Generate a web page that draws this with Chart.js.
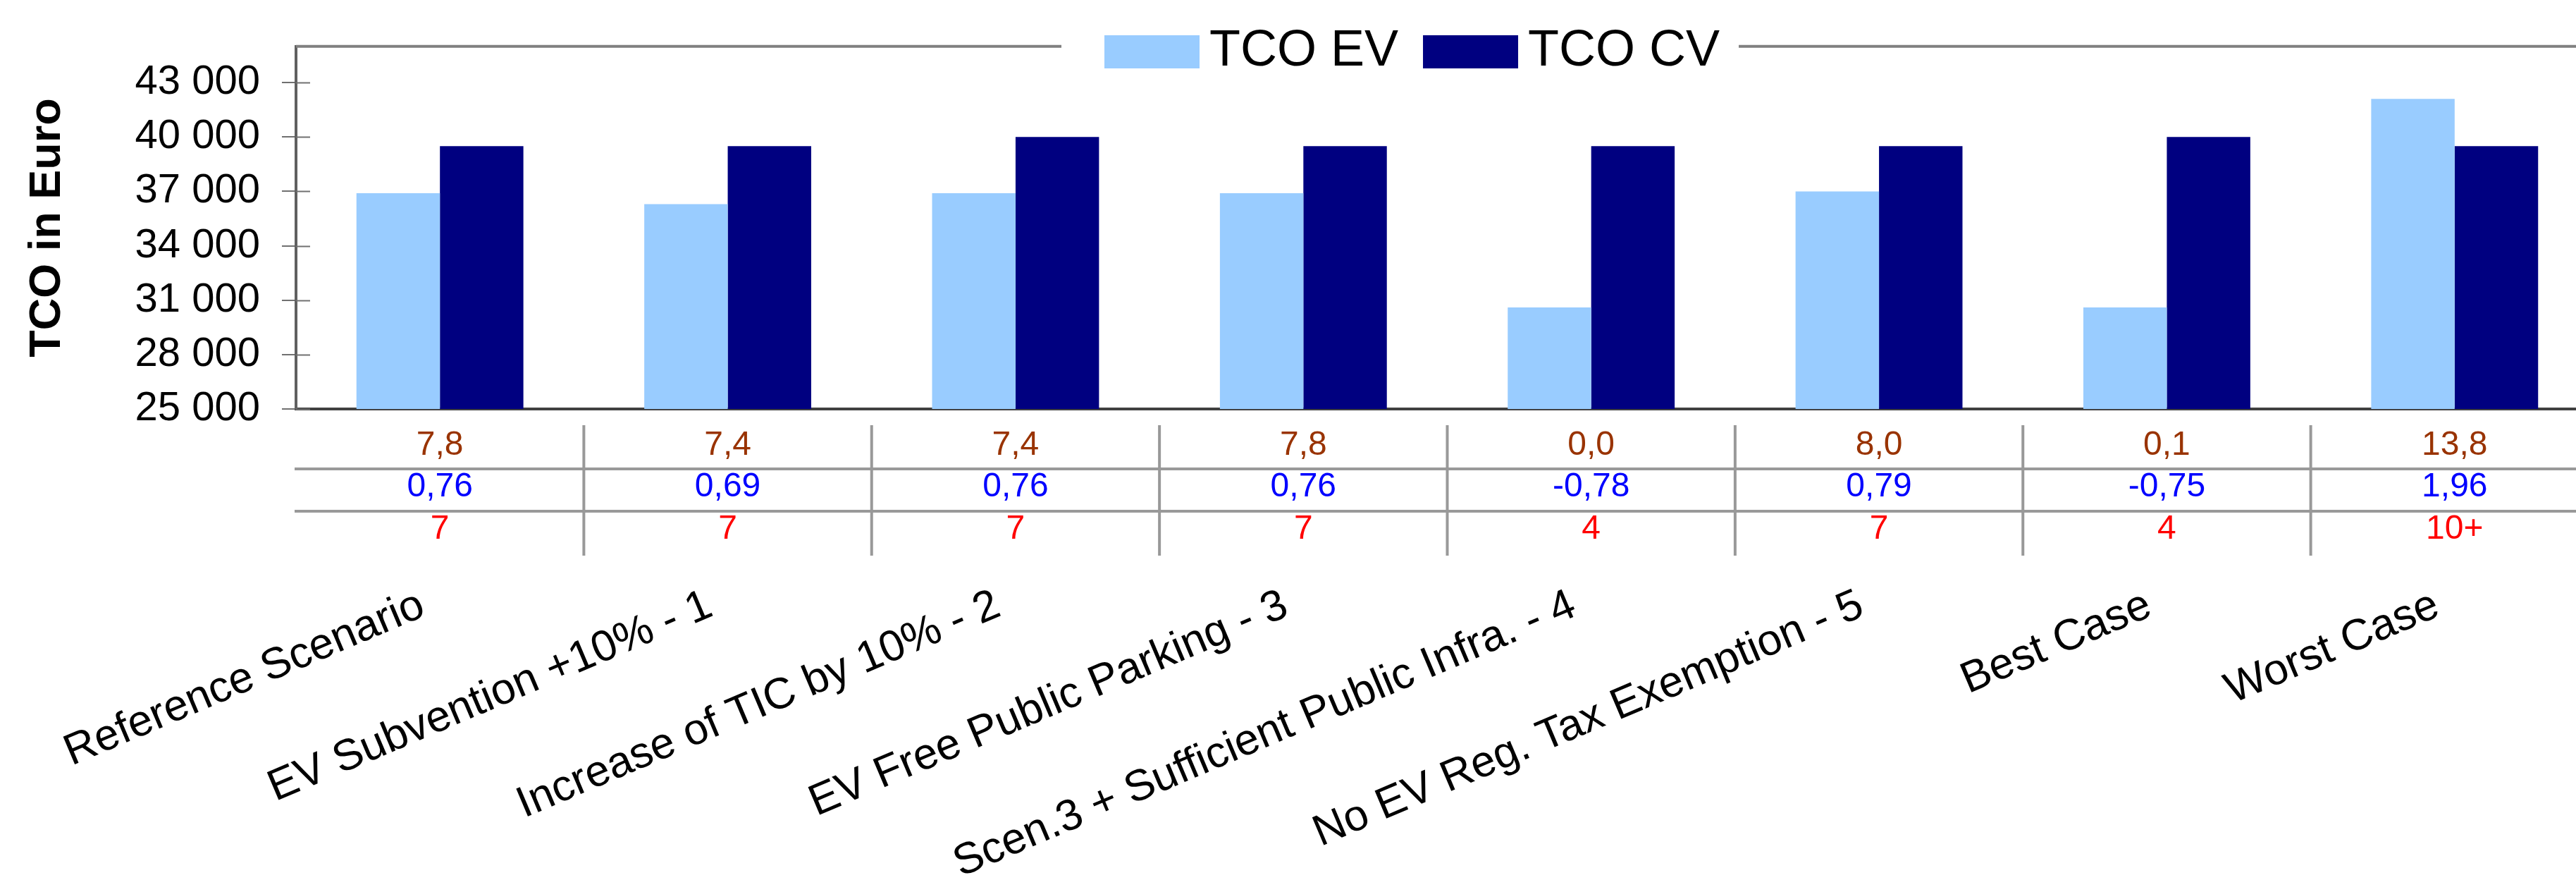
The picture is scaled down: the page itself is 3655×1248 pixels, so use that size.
<!DOCTYPE html>
<html>
<head>
<meta charset="utf-8">
<title>TCO EV vs CV</title>
<script src="https://cdn.jsdelivr.net/npm/chart.js@4.4.1/dist/chart.umd.min.js"></script>
<style>
  html, body { margin: 0; padding: 0; background: #fff; overflow: hidden; }
  #wrap { width: 3655px; height: 1248px; position: relative; }
</style>
</head>
<body>
<div id="wrap"><canvas id="tcoChart"></canvas></div>
<script>
// scenario names (x axis)
const categories = [
  "Reference Scenario",
  "EV Subvention +10% - 1",
  "Increase of TIC by 10% - 2",
  "EV Free Public Parking - 3",
  "Scen.3 + Sufficient Public Infra. - 4",
  "No EV Reg. Tax Exemption - 5",
  "Best Case",
  "Worst Case"
];

// TCO values in Euro
const tcoEV = [36900, 36300, 36900, 36900, 30600, 37000, 30600, 42100];
const tcoCV = [39500, 39500, 40000, 39500, 39500, 39500, 40000, 39500];

// data table rows under the plot
const rowBrown = ["7,8", "7,4", "7,4", "7,8", "0,0", "8,0", "0,1", "13,8"];
const rowBlue = ["0,76", "0,69", "0,76", "0,76", "-0,78", "0,79", "-0,75", "1,96"];
const rowRed = ["7", "7", "7", "7", "4", "7", "4", "10+"];

// y axis
const yTicks = [25000, 28000, 31000, 34000, 37000, 40000, 43000];
const yMin = 25000;
const yMax = 45000;

const FONT = "'Liberation Sans', Arial, Helvetica, sans-serif";
Chart.defaults.font.family = FONT;
Chart.defaults.color = "#000";

const EV_COLOR = "#99CCFF";
const CV_COLOR = "#000080";

const fmt = v => String(v).replace(/\B(?=(\d{3})+(?!\d))/g, " ");

// the plot runs a little past the right edge of the picture
const PLOT_WIDTH = 3267;

const extras = {
  id: "extras",
  afterLayout(chart) {
    const xs = chart.scales.x;
    xs.right = xs.left + PLOT_WIDTH;
    xs.width = PLOT_WIDTH;
    xs.configure();
  },
  afterDraw(chart) {
    const { ctx, chartArea } = chart;
    const xs = chart.scales.x;
    const ys = chart.scales.y;
    ctx.save();

    // inner half of the y tick marks
    ctx.strokeStyle = "#707070";
    ctx.lineWidth = 2;
    yTicks.forEach(v => {
      const y = Math.round(ys.getPixelForValue(v)) + 0.5;
      ctx.beginPath();
      ctx.moveTo(chartArea.left, y);
      ctx.lineTo(chartArea.left + 20, y);
      ctx.stroke();
    });

    // legend (sits on the top border)
    const ds = chart.data.datasets;
    ctx.font = "72px " + FONT;
    ctx.textBaseline = "alphabetic";
    ctx.textAlign = "left";
    let x = 1567;
    const legendStart = x;
    ds.forEach((d, i) => {
      ctx.fillStyle = d.backgroundColor;
      ctx.fillRect(x, 50, 135, 47);
      x += 149;
      ctx.fillStyle = "#000";
      ctx.fillText(d.label, x, 93);
      x += ctx.measureText(d.label).width;
      if (i < ds.length - 1) x += 35;
    });
    const legendEnd = x;

    // top border with a gap for the legend
    ctx.strokeStyle = "#808080";
    ctx.lineWidth = 4;
    const ty = chartArea.top;
    ctx.beginPath();
    ctx.moveTo(chartArea.left, ty);
    ctx.lineTo(legendStart - 61, ty);
    ctx.moveTo(legendEnd + 27, ty);
    ctx.lineTo(chart.width + 10, ty);
    ctx.stroke();

    // data table
    const b = chartArea.bottom;
    ctx.strokeStyle = "#999999";
    ctx.lineWidth = 4;
    [b + 85, b + 145].forEach(y => {
      ctx.beginPath();
      ctx.moveTo(chartArea.left - 2, y);
      ctx.lineTo(chart.width + 10, y);
      ctx.stroke();
    });
    for (let i = 0; i < categories.length - 1; i++) {
      const sx = (xs.getPixelForValue(i) + xs.getPixelForValue(i + 1)) / 2;
      ctx.beginPath();
      ctx.moveTo(sx, b + 23);
      ctx.lineTo(sx, b + 208);
      ctx.stroke();
    }
    ctx.font = "48px " + FONT;
    ctx.textAlign = "center";
    ctx.textBaseline = "middle";
    const rows = [[rowBrown, "#993300", b + 52], [rowBlue, "#0000FF", b + 111], [rowRed, "#FF0000", b + 171]];
    rows.forEach(([vals, col, y]) => {
      ctx.fillStyle = col;
      vals.forEach((t, i) => ctx.fillText(t, xs.getPixelForValue(i), y));
    });

    ctx.restore();
  }
};

new Chart(document.getElementById("tcoChart"), {
  type: "bar",
  data: {
    labels: categories,
    datasets: [
      { label: "TCO EV", data: tcoEV, backgroundColor: EV_COLOR, borderWidth: 0 },
      { label: "TCO CV", data: tcoCV, backgroundColor: CV_COLOR, borderWidth: 0 }
    ]
  },
  options: {
    responsive: true,
    maintainAspectRatio: false,
    animation: false,
    categoryPercentage: 0.58,
    barPercentage: 1.0,
    layout: { padding: { top: 63, right: 0, left: 0, bottom: 0 } },
    plugins: {
      legend: { display: false },
      tooltip: { enabled: false }
    },
    scales: {
      x: {
        grid: { display: false, drawTicks: false },
        border: { display: true, color: "#404040", width: 4 },
        ticks: {
          autoSkip: false,
          maxRotation: 23,
          minRotation: 23,
          padding: 242,
          labelOffset: -25,
          color: "#000",
          font: { size: 62 }
        },
        afterFit: s => {
          s.height = 668;
          s.paddingLeft = 0;
          s.paddingRight = 0;
        }
      },
      y: {
        min: yMin,
        max: yMax,
        afterBuildTicks: s => { s.ticks = yTicks.map(v => ({ value: v })); },
        grid: { drawOnChartArea: false, drawTicks: true, tickLength: 20, color: "#707070", lineWidth: 2 },
        border: { display: true, color: "#606060", width: 4 },
        ticks: {
          padding: 31,
          color: "#000",
          font: { size: 58 },
          callback: v => fmt(v)
        },
        title: {
          display: true,
          text: "TCO in Euro",
          color: "#000",
          font: { size: 63, weight: "bold" },
          padding: { top: 30, bottom: 86 }
        },
        afterFit: s => { s.width = 420; }
      }
    }
  },
  plugins: [extras]
});
</script>
</body>
</html>
